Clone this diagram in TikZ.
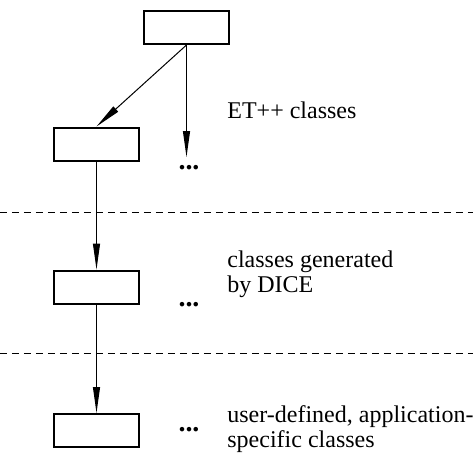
\documentclass[tikz,border=0pt]{standalone}
\usepackage{fontspec}
\setmainfont{Liberation Serif}
\usetikzlibrary{arrows.meta}
\tikzset{
	cls/.style={draw,line width=1pt,minimum width=42.5pt,minimum height=16.5pt,inner sep=0pt},
	inh/.style={-{Triangle[length=13pt,width=3.5pt]},line width=0.5pt},
	layer/.style={dash pattern=on 3.5pt off 2.5pt,line width=0.5pt},
	lbl/.style={anchor=base west,align=left,inner sep=0pt,font=\fontsize{12}{12.5}\selectfont},
	more/.style={inner sep=0pt,font=\fontsize{14}{14}\selectfont\bfseries}
}
\begin{document}
\begin{tikzpicture}[x=0.5pt,y=-0.5pt]
	\useasboundingbox (0,0) rectangle (473,452);
	\node[cls] (root) at (186.5,27.5) {};
	\node[cls] (et) at (96.5,144) {};
	\node[cls] (dice) at (96.5,287) {};
	\node[cls] (user) at (96.5,430.5) {};
	\coordinate (etmore) at (186.5,157);
	\node[more] (dots1) at (189,168) {...};
	\node[more] (dots2) at (189,305) {...};
	\node[more] (dots3) at (189,430) {...};
	\draw[inh] (root.south) -- (et.north);
	\draw[inh] (root.south) -- (etmore);
	\draw[inh] (et) -- (dice);
	\draw[inh] (dice) -- (user);
	\draw[layer] (0,212) -- (473,212);
	\draw[layer] (0,353) -- (473,353);
	% base of a two-line label is its last line
	\node[lbl] (etlbl) at (227,118) {ET++ classes};
	\node[lbl] (dicelbl) at (227,292) {classes generated\\by DICE};
	\node[lbl] (userlbl) at (227,447) {user-defined, application-\\specific classes};
\end{tikzpicture}
\end{document}
